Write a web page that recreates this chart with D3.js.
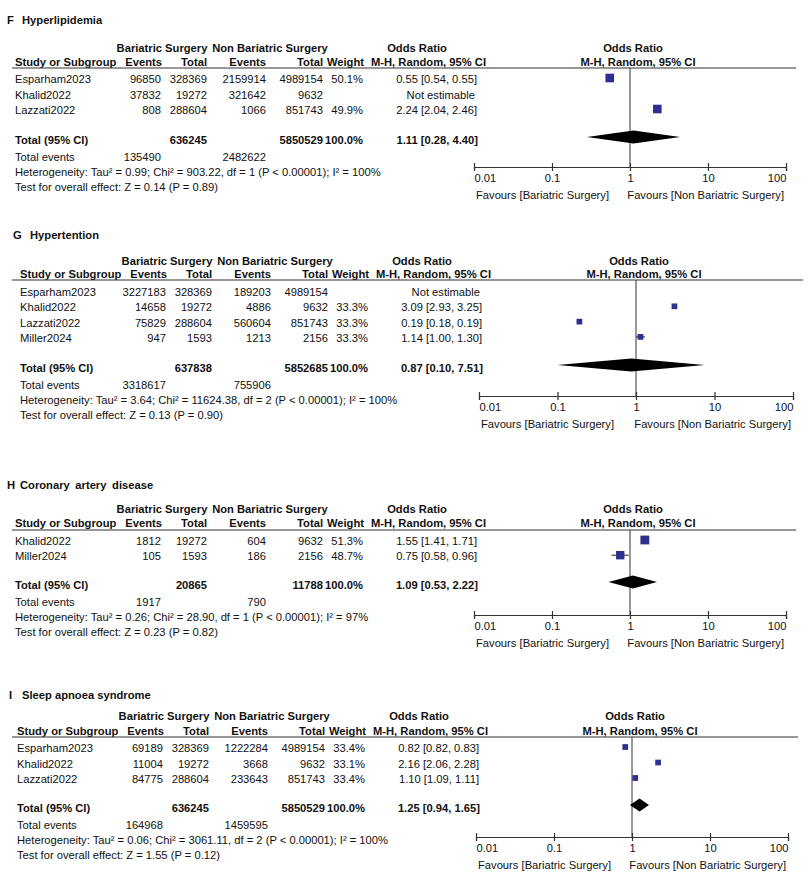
<!DOCTYPE html>
<html>
<head>
<meta charset="utf-8">
<script src="https://cdn.jsdelivr.net/npm/d3@7"></script>
<style>
  body { margin: 0; background: #fff; }
  text { font-family: "Liberation Sans", Arial, sans-serif; font-size: 11.2px; fill: #111; }
  .b { font-weight: bold; }
</style>
</head>
<body>
<div id="chart-area"></div>
<script>
// F Hyperlipidemia
const fStudies = ["Esparham2023", "Khalid2022", "Lazzati2022"];
const fEventsB = [96850, 37832, 808];
const fTotalB = [328369, 19272, 288604];
const fEventsN = [2159914, 321642, 1066];
const fTotalN = [4989154, 9632, 851743];
const fWeight = [50.1, null, 49.9];
const fOR = [0.55, null, 2.24];
const fLow = [0.54, null, 2.04];
const fHigh = [0.55, null, 2.46];
const fTotals = [636245, 5850529];
const fTotalEvents = [135490, 2482622];
const fPooled = [1.11, 0.28, 4.40];
const fHet = "Heterogeneity: Tau² = 0.99; Chi² = 903.22, df = 1 (P < 0.00001); I² = 100%";
const fTest = "Test for overall effect: Z = 0.14 (P = 0.89)";

// G Hypertention
const gStudies = ["Esparham2023", "Khalid2022", "Lazzati2022", "Miller2024"];
const gEventsB = [3227183, 14658, 75829, 947];
const gTotalB = [328369, 19272, 288604, 1593];
const gEventsN = [189203, 4886, 560604, 1213];
const gTotalN = [4989154, 9632, 851743, 2156];
const gWeight = [null, 33.3, 33.3, 33.3];
const gOR = [null, 3.09, 0.19, 1.14];
const gLow = [null, 2.93, 0.18, 1.00];
const gHigh = [null, 3.25, 0.19, 1.30];
const gTotals = [637838, 5852685];
const gTotalEvents = [3318617, 755906];
const gPooled = [0.87, 0.10, 7.51];
const gHet = "Heterogeneity: Tau² = 3.64; Chi² = 11624.38, df = 2 (P < 0.00001); I² = 100%";
const gTest = "Test for overall effect: Z = 0.13 (P = 0.90)";

// H Coronary artery disease
const hStudies = ["Khalid2022", "Miller2024"];
const hEventsB = [1812, 105];
const hTotalB = [19272, 1593];
const hEventsN = [604, 186];
const hTotalN = [9632, 2156];
const hWeight = [51.3, 48.7];
const hOR = [1.55, 0.75];
const hLow = [1.41, 0.58];
const hHigh = [1.71, 0.96];
const hTotals = [20865, 11788];
const hTotalEvents = [1917, 790];
const hPooled = [1.09, 0.53, 2.22];
const hHet = "Heterogeneity: Tau² = 0.26; Chi² = 28.90, df = 1 (P < 0.00001); I² = 97%";
const hTest = "Test for overall effect: Z = 0.23 (P = 0.82)";

// I Sleep apnoea syndrome
const iStudies = ["Esparham2023", "Khalid2022", "Lazzati2022"];
const iEventsB = [69189, 11004, 84775];
const iTotalB = [328369, 19272, 288604];
const iEventsN = [1222284, 3668, 233643];
const iTotalN = [4989154, 9632, 851743];
const iWeight = [33.4, 33.1, 33.4];
const iOR = [0.82, 2.16, 1.10];
const iLow = [0.82, 2.06, 1.09];
const iHigh = [0.83, 2.28, 1.11];
const iTotals = [636245, 5850529];
const iTotalEvents = [164968, 1459595];
const iPooled = [1.25, 0.94, 1.65];
const iHet = "Heterogeneity: Tau² = 0.06; Chi² = 3061.11, df = 2 (P < 0.00001); I² = 100%";
const iTest = "Test for overall effect: Z = 1.55 (P = 0.12)";

const tickValues = [0.01, 0.1, 1, 10, 100];

const panels = [
  {letter: "F", name: "Hyperlipidemia", studies: fStudies, eB: fEventsB, tB: fTotalB, eN: fEventsN, tN: fTotalN,
   w: fWeight, or: fOR, lo: fLow, hi: fHigh, totals: fTotals, tev: fTotalEvents, pooled: fPooled, het: fHet, test: fTest},
  {letter: "G", name: "Hypertention", studies: gStudies, eB: gEventsB, tB: gTotalB, eN: gEventsN, tN: gTotalN,
   w: gWeight, or: gOR, lo: gLow, hi: gHigh, totals: gTotals, tev: gTotalEvents, pooled: gPooled, het: gHet, test: gTest},
  {letter: "H", name: "Coronary artery disease", studies: hStudies, eB: hEventsB, tB: hTotalB, eN: hEventsN, tN: hTotalN,
   w: hWeight, or: hOR, lo: hLow, hi: hHigh, totals: hTotals, tev: hTotalEvents, pooled: hPooled, het: hHet, test: hTest},
  {letter: "I", name: "Sleep apnoea syndrome", studies: iStudies, eB: iEventsB, tB: iTotalB, eN: iEventsN, tN: iTotalN,
   w: iWeight, or: iOR, lo: iLow, hi: iHigh, totals: iTotals, tev: iTotalEvents, pooled: iPooled, het: iHet, test: iTest}
];

// where each panel sits on the page
const layout = [
  {dx: 0, lx: 7,  nx: 22, title: 20,  h1: 48,  h2: 62,  u: 68,  row0: 79,  step: 15.5, total: 140, axis: 167, plot: [474, 786], orX: 477, ws: 0},
  {dx: 5, lx: 13, nx: 30, title: 235, h1: 261, h2: 274, u: 280, row0: 292, step: 15.3, total: 368, axis: 396, plot: [479, 793], orX: 482, ws: 0},
  {dx: 0, lx: 7,  nx: 20, title: 485, h1: 509, h2: 523, u: 530, row0: 541, step: 15.2, total: 585, axis: 615, plot: [474, 786], orX: 477, ws: 2.5},
  {dx: 2, lx: 9,  nx: 22, title: 695, h1: 716, h2: 731, u: 737, row0: 748, step: 15.5, total: 808, axis: 837, plot: [476, 788], orX: 479, ws: 0}
];

const cols = {eB: 161, tB: 207, eN: 266, tN: 323, w: 363};
const squareColor = "#2e2f8e";
const lineColor = "#333";

const svg = d3.select("#chart-area")
  .append("svg")
  .attr("width", 810)
  .attr("height", 883);

const size = d3.scaleLinear().domain([0, 100]).range([0, 17.2]);
const fmtCI = (o, l, h) => `${o.toFixed(2)} [${l.toFixed(2)}, ${h.toFixed(2)}]`;

function label(g, x, y, txt, anchor, bold) {
  return g.append("text")
    .attr("x", x)
    .attr("y", y + 4)
    .attr("text-anchor", anchor || "start")
    .attr("class", bold ? "b" : null)
    .text(txt);
}

panels.forEach((p, k) => {
  const L = layout[k];
  const g = svg.append("g");
  const c = {};
  Object.keys(cols).forEach(key => c[key] = cols[key] + L.dx);

  // title
  label(g, L.lx, L.title, p.letter, "start", true);
  label(g, L.nx, L.title, p.name, "start", true).attr("word-spacing", L.ws);

  // table headers
  label(g, 162 + L.dx, L.h1, "Bariatric Surgery", "middle", true);
  label(g, 270 + L.dx, L.h1, "Non Bariatric Surgery", "middle", true);
  label(g, 15 + L.dx, L.h2, "Study or Subgroup", "start", true);
  label(g, c.eB + 1, L.h2, "Events", "end", true);
  label(g, c.tB, L.h2, "Total", "end", true);
  label(g, c.eN, L.h2, "Events", "end", true);
  label(g, c.tN, L.h2, "Total", "end", true);
  label(g, c.w + 1, L.h2, "Weight", "end", true);
  label(g, L.orX - 60, L.h1, "Odds Ratio", "middle", true);
  label(g, L.orX + 9, L.h2, "M-H, Random, 95% CI", "end", true);

  const x = d3.scaleLog().domain([0.01, 100]).range(L.plot);
  const mid = x(1);
  label(g, mid + 3, L.h1, "Odds Ratio", "middle", true);
  label(g, mid + 8, L.h2, "M-H, Random, 95% CI", "middle", true);

  g.append("line")
    .attr("x1", 12).attr("x2", L.plot[1] + 10)
    .attr("y1", L.u).attr("y2", L.u)
    .attr("stroke", lineColor).attr("stroke-width", 1.2);

  // study rows
  p.studies.forEach((s, i) => {
    const y = L.row0 + i * L.step;
    label(g, 15 + L.dx, y, s);
    label(g, c.eB, y, p.eB[i], "end");
    label(g, c.tB, y, p.tB[i], "end");
    label(g, c.eN, y, p.eN[i], "end");
    label(g, c.tN, y, p.tN[i], "end");
    if (p.w[i] != null) label(g, c.w, y, p.w[i].toFixed(1) + "%", "end");
    if (p.or[i] == null) {
      label(g, L.orX - 2, y, "Not estimable", "end");
    } else {
      label(g, L.orX, y, fmtCI(p.or[i], p.lo[i], p.hi[i]), "end");
    }
  });

  // total rows
  label(g, 15 + L.dx, L.total, "Total (95% CI)", "start", true);
  label(g, c.tB, L.total, p.totals[0], "end", true);
  label(g, c.tN, L.total, p.totals[1], "end", true);
  label(g, c.w, L.total, "100.0%", "end", true);
  label(g, L.orX + 1, L.total, fmtCI(p.pooled[0], p.pooled[1], p.pooled[2]), "end", true);
  label(g, 15 + L.dx, L.total + 16.5, "Total events");
  label(g, c.eB, L.total + 16.5, p.tev[0], "end");
  label(g, c.eN, L.total + 16.5, p.tev[1], "end");
  label(g, 15 + L.dx, L.total + 32, p.het);
  label(g, 15 + L.dx, L.total + 47, p.test);

  // null line
  g.append("line")
    .attr("x1", mid).attr("x2", mid)
    .attr("y1", L.u).attr("y2", L.axis)
    .attr("stroke", lineColor).attr("stroke-width", 1);

  // confidence intervals and squares
  const est = p.studies.map((s, i) => ({or: p.or[i], lo: p.lo[i], hi: p.hi[i], w: p.w[i], y: L.row0 + i * L.step}))
    .filter(d => d.or != null);

  g.selectAll(".ci")
    .data(est)
    .enter().append("line")
    .attr("x1", d => x(d.lo)).attr("x2", d => x(d.hi))
    .attr("y1", d => d.y - 1).attr("y2", d => d.y - 1)
    .attr("stroke", "#222").attr("stroke-width", 1);

  g.selectAll(".sq")
    .data(est)
    .enter().append("rect")
    .attr("x", d => x(d.or) - size(d.w) / 2)
    .attr("y", d => d.y - 1 - size(d.w) / 2)
    .attr("width", d => size(d.w))
    .attr("height", d => size(d.w))
    .attr("fill", squareColor);

  // pooled diamond
  const yc = L.total - 3;
  g.append("path")
    .attr("d", `M${x(p.pooled[1])},${yc}L${x(p.pooled[0])},${yc - 6.5}L${x(p.pooled[2])},${yc}L${x(p.pooled[0])},${yc + 6.5}Z`)
    .attr("fill", "#000");

  // axis
  const axisGroup = g.append("g")
    .attr("transform", `translate(0, ${L.axis})`)
    .call(d3.axisBottom(x).tickValues(tickValues).tickFormat(d => String(d)).tickSize(4).tickPadding(3));
  axisGroup.select(".domain").attr("stroke", lineColor).attr("stroke-width", 1.2);
  axisGroup.selectAll(".tick line").attr("y1", -4).attr("y2", 4).attr("stroke", lineColor).attr("stroke-width", 1.2);
  axisGroup.selectAll(".tick text")
    .attr("font-size", 11.2)
    .attr("font-family", null)
    .attr("text-anchor", (d, i) => i === 0 ? "start" : (i === tickValues.length - 1 ? "end" : "middle"));

  label(g, L.plot[0] + 2, L.axis + 28, "Favours [Bariatric Surgery]").attr("font-size", 10.5);
  label(g, L.plot[1] - 2, L.axis + 28, "Favours [Non Bariatric Surgery]", "end").attr("font-size", 10.5);
});
</script>
</body>
</html>
